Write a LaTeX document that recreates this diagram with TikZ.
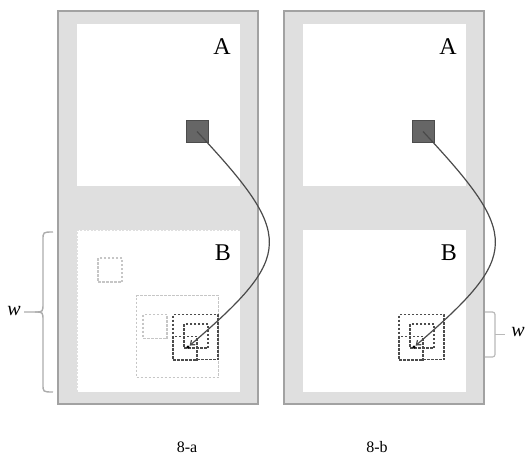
\documentclass[tikz,border=0pt]{standalone}
\usepackage{fontspec}
\setmainfont{Liberation Serif}
\usetikzlibrary{positioning,arrows.meta}

\definecolor{panelgray}{HTML}{DFDFDF}
\definecolor{rimgray}{HTML}{A2A2A2}
\definecolor{markgray}{HTML}{666666}
\definecolor{linkgray}{HTML}{4A4A4A}

\begin{document}
\begin{tikzpicture} [x = 1pt, y = -1pt, line width = 0.8pt, node distance = 226pt,
        panel/.style = {draw = rimgray, fill = panelgray, line width = 1.4pt, minimum width = 200pt, minimum height = 393pt, inner sep = 0pt},
        region/.style = {fill = white, minimum width = 163pt, minimum height = 162pt, inner sep = 0pt},
        lightedge/.style = {draw = gray!25, dash pattern = on 2pt off 1.5pt, line width = 1pt},
        marker/.style = {draw = black!70, fill = markgray, line width = 1pt, minimum size = 22pt, inner sep = 0pt},
        endpt/.style = {circle, fill = black, minimum size = 3.5pt, inner sep = 0pt},
        winlight/.style = {draw = gray!45, dash pattern = on 2.5pt off 1.5pt, line width = 1.2pt, minimum size = #1, inner sep = 0pt},
        windark/.style = {draw = black!70, dash pattern = on 2.5pt off 1.5pt, line width = 1.5pt, minimum size = #1, inner sep = 0pt},
        letter/.style = {font = \fontsize{24}{28}\selectfont},
        sublabel/.style = {font = \fontsize{16}{19}\selectfont},
        wlabel/.style = {font = \fontsize{20}{24}\selectfont\itshape},
        link/.style = {-{Straight Barb[length = 4pt, width = 6pt]}, draw = linkgray, line width = 1.2pt},
        bracegray/.style = {draw = gray!65, line width = 1.4pt},
        bracket/.style = {draw = gray!55, line width = 1.2pt, rounded corners = 2.5pt}]
        \useasboundingbox (0,0) rectangle (531,461);

        \node [panel] (pa) at (158,207.5) {};
        \node [panel] (pb) [right of = pa] {};

        \node [region] (aa) at (158.5,105) {};
        \node [region] (ab) [right of = aa] {};
        \node [region, lightedge] (ba) at (158.5,311) {};
        \node [region] (bb) [right of = ba] {};

        \node [letter] (la) at (222,47) {A};
        \node [letter] (lb) [right of = la] {A};
        \node [letter] (ma) at (223,253) {B};
        \node [letter] (mb) [right of = ma] {B};

        \node [marker] (sqa) at (197,131.5) {};
        \node [marker] (sqb) [right of = sqa] {};

        \node [winlight = 24pt] (ua) at (110,270) {};
        \node [winlight = 82pt] (va) at (177.5,336.5) {};
        \node [winlight = 24pt] (wa) at (155,326.5) {};

        \node [windark = 45pt] (xa) at (195.5,337) {};
        \node [windark = 45pt] (xb) [right of = xa] {};
        \node [windark = 24pt] (ya) at (196,336) {};
        \node [windark = 24pt] (yb) [right of = ya] {};
        \node [windark = 24pt] (za) at (185,348.5) {};
        \node [windark = 24pt] (zb) [right of = za] {};

        \node [endpt] (dota) at (188,347) {};
        \node [endpt] (dotb) [right of = dota] {};

        \draw [link] (sqa.center) .. controls +(97,104) and +(107,-92) .. (dota);
        \draw [link] (sqb.center) .. controls +(97,104) and +(107,-92) .. (dotb);

        \coordinate (wtop) at (53,232);
        \coordinate (wbot) at (53,392);
        \coordinate (wtip) at (24,312);
        \draw [bracegray] (wtop) .. controls (43,232) .. (43,240) -- (43,303) .. controls (43,312) .. (35,312) -- (wtip);
        \draw [bracegray] (wbot) .. controls (43,392) .. (43,384) -- (43,321) .. controls (43,312) .. (35,312);
        \node [wlabel] (wla) at (14,311) {w};

        \coordinate (bt) at (485,312);
        \coordinate (bd) at (485,357);
        \coordinate (bm) at (505,334.5);
        \draw [bracket] (bt) -- ++(10,0) -- ++(0,45) -- (bd);
        \draw [bracket] ([xshift = -10pt] bm) -- (bm);
        \node [wlabel] (wlb) at (518,332) {w};

        \node [sublabel] (ca) at (187,447) {8-a};
        \node [sublabel] (cb) at (377,447) {8-b};

    \end{tikzpicture}
\end{document}
